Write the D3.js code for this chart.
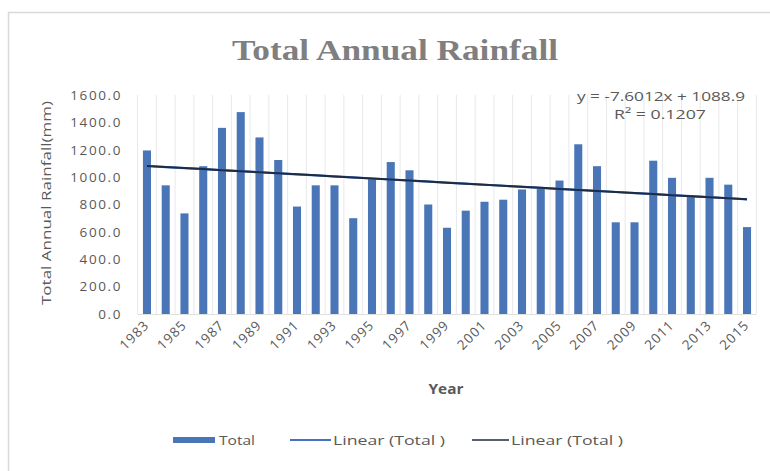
<!DOCTYPE html>
<html>
<head>
<meta charset="utf-8">
<script src="https://cdn.jsdelivr.net/npm/d3@7"></script>
<style>
  body { margin: 0; background: #fff; }
  svg { display: block; }
  text { font-family: "Open Sans", "Noto Sans", sans-serif; fill: #595959; }
</style>
</head>
<body>
<svg id="chart" width="770" height="471"></svg>
<script>
// values
const years = d3.range(1983, 2016);
const rainfall = [1195, 940, 735, 1080, 1360, 1475, 1290, 1125, 785, 940,
  940, 700, 985, 1110, 1050, 800, 630, 755, 820, 835,
  910, 915, 975, 1240, 1080, 670, 670, 1120, 995, 855,
  995, 945, 635];
const yTicks = [0, 200, 400, 600, 800, 1000, 1200, 1400, 1600];
const trendSlope = -7.6012;
const trendIntercept = 1088.9;
const legendItems = ["Total", "Linear (Total )", "Linear (Total )"];

const svg = d3.select("#chart");

// chart frame
svg.append("path")
  .attr("d", "M8.5,471 V12.5 H770")
  .attr("fill", "none")
  .attr("stroke", "#d9d9d9")
  .attr("stroke-width", 1.5);

const x = d3.scaleBand()
  .domain(years)
  .range([137.6, 756.4])
  .paddingInner(0.57)
  .paddingOuter(0.285);

const y = d3.scaleLinear()
  .domain([0, 1600])
  .range([314, 95]);

// vertical gridlines at category edges
const step = x.step();
svg.append("g")
  .selectAll("line")
  .data(d3.range(years.length + 1))
  .enter()
  .append("line")
  .attr("x1", i => 137.6 + i * step)
  .attr("x2", i => 137.6 + i * step)
  .attr("y1", y(1600))
  .attr("y2", y(0))
  .attr("stroke", "#e8e8e8")
  .attr("stroke-width", 1);

// bars
svg.append("g")
  .selectAll("rect")
  .data(rainfall)
  .enter()
  .append("rect")
  .attr("x", (d, i) => x(years[i]))
  .attr("y", d => y(d))
  .attr("width", x.bandwidth())
  .attr("height", d => y(0) - y(d))
  .attr("fill", "#4a76b8");

// axis line
svg.append("line")
  .attr("x1", 137.6).attr("x2", 756.4)
  .attr("y1", y(0) + 0.5).attr("y2", y(0) + 0.5)
  .attr("stroke", "#e0e0e0");

// y axis
const yAxis = svg.append("g")
  .attr("transform", "translate(122,0)")
  .call(d3.axisLeft(y).tickValues(yTicks).tickFormat(d3.format(".1f")).tickSize(0).tickPadding(0));
yAxis.select(".domain").remove();
yAxis.selectAll("text")
  .style("font-family", "'Open Sans', sans-serif")
  .style("font-size", "13.5px")
  .style("letter-spacing", "1.6px")
  .attr("fill", "#595959");

// x axis, every second year
const xAxis = svg.append("g")
  .attr("transform", `translate(0,${y(0)})`)
  .call(d3.axisBottom(x).tickValues(years.filter((d, i) => i % 2 == 0)).tickSize(0).tickPadding(0));
xAxis.select(".domain").remove();
xAxis.selectAll("text")
  .style("font-family", "'Open Sans', sans-serif")
  .style("font-size", "13.5px")
  .style("letter-spacing", "1px")
  .attr("fill", "#595959")
  .attr("text-anchor", "end")
  .attr("dy", null)
  .attr("y", 0)
  .attr("transform", "translate(3,12) rotate(-45)");

// trendlines (both linear series coincide)
const trend = years.map((d, i) => [d, trendIntercept + trendSlope * (i + 1)]);
const line = d3.line()
  .x(d => x(d[0]) + x.bandwidth() / 2)
  .y(d => y(d[1]));
svg.append("path")
  .datum(trend)
  .attr("d", line)
  .attr("fill", "none")
  .attr("stroke", "#4472c4")
  .attr("stroke-width", 2.2);
svg.append("path")
  .datum(trend)
  .attr("d", line)
  .attr("fill", "none")
  .attr("stroke", "#1e2b44")
  .attr("stroke-width", 2);

// equation
svg.append("text")
  .attr("x", 661).attr("y", 101)
  .attr("text-anchor", "middle")
  .attr("textLength", 168)
  .attr("lengthAdjust", "spacingAndGlyphs")
  .style("font-size", "13.5px")
  .text("y = -7.6012x + 1088.9");
svg.append("text")
  .attr("x", 660).attr("y", 119)
  .attr("text-anchor", "middle")
  .attr("textLength", 92)
  .attr("lengthAdjust", "spacingAndGlyphs")
  .style("font-size", "13.5px")
  .text("R² = 0.1207");

// title
svg.append("text")
  .attr("x", 395).attr("y", 60)
  .attr("text-anchor", "middle")
  .attr("textLength", 326)
  .attr("lengthAdjust", "spacingAndGlyphs")
  .style("font-family", "'Liberation Serif', serif")
  .style("font-weight", "bold")
  .style("font-size", "30px")
  .style("fill", "#7f7f7f")
  .text("Total Annual Rainfall");

// axis titles
svg.append("text")
  .attr("transform", "translate(51,203) rotate(-90)")
  .attr("text-anchor", "middle")
  .attr("textLength", 204)
  .attr("lengthAdjust", "spacingAndGlyphs")
  .style("font-size", "13.5px")
  .text("Total Annual Rainfall(mm)");
svg.append("text")
  .attr("x", 446).attr("y", 394)
  .attr("text-anchor", "middle")
  .attr("textLength", 35)
  .attr("lengthAdjust", "spacingAndGlyphs")
  .style("font-size", "13.5px")
  .style("font-weight", "bold")
  .text("Year");

// legend
const legend = svg.append("g").attr("transform", "translate(0,440)");
legend.append("rect")
  .attr("x", 173).attr("y", -3).attr("width", 42).attr("height", 6)
  .attr("fill", "#4a76b8");
legend.append("line")
  .attr("x1", 290).attr("x2", 331).attr("y1", 0).attr("y2", 0)
  .attr("stroke", "#4472c4").attr("stroke-width", 2);
legend.append("line")
  .attr("x1", 472).attr("x2", 509).attr("y1", 0).attr("y2", 0)
  .attr("stroke", "#1e2b44").attr("stroke-width", 1.5);
legend.selectAll("text.lg")
  .data(legendItems)
  .enter()
  .append("text")
  .attr("class", "lg")
  .attr("x", (d, i) => [219, 333, 511][i])
  .attr("y", 5)
  .attr("textLength", (d, i) => [36, 112, 112][i])
  .attr("lengthAdjust", "spacingAndGlyphs")
  .style("font-size", "13.5px")
  .text(d => d);
</script>
</body>
</html>
